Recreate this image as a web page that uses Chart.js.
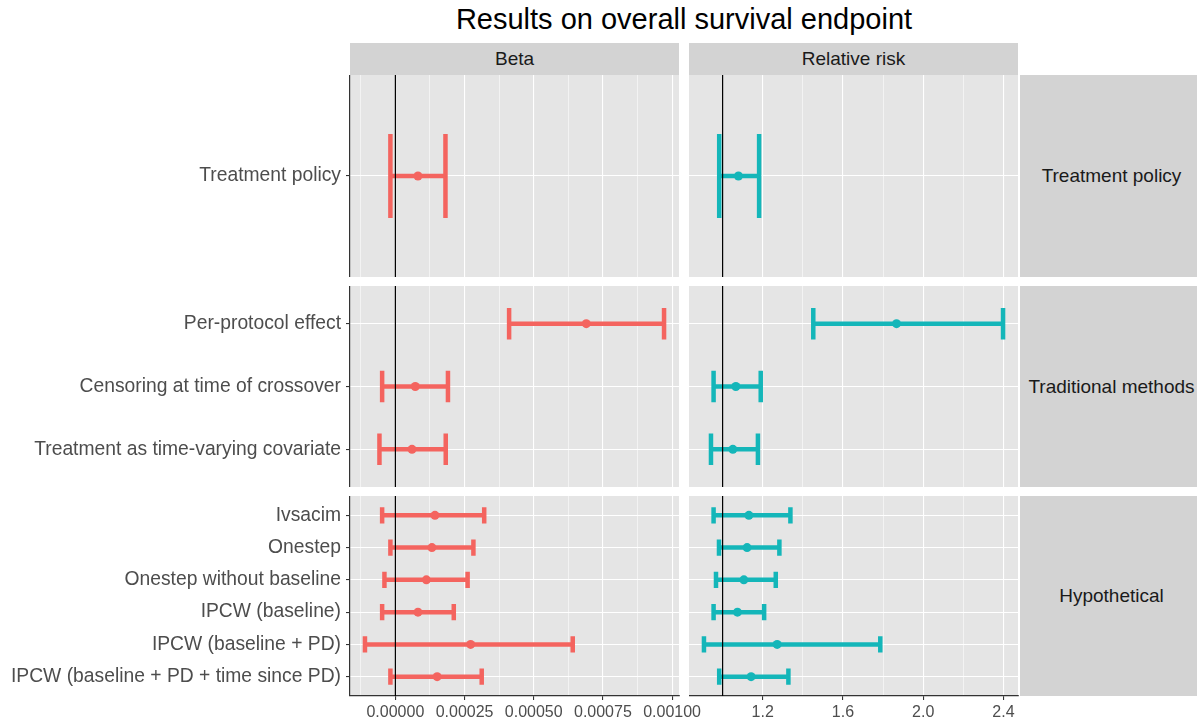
<!DOCTYPE html>
<html>
<head>
<meta charset="utf-8">
<script src="https://cdn.jsdelivr.net/npm/chart.js@4.4.1/dist/chart.umd.min.js"></script>
<style>
  html, body { margin: 0; padding: 0; background: #fff; overflow: hidden; }
  body { width: 1197px; height: 721px; position: relative; font-family: 'Liberation Sans', Arial, sans-serif; }
  .box { position: absolute; }
  .strip { position: absolute; background: #D3D3D3; color: #1A1A1A; font-size: 19px;
           display: flex; align-items: center; justify-content: center; white-space: nowrap; }
  #title { position: absolute; left: 350px; width: 668px; top: 3px; text-align: center; font-size: 29px; color: #000; }
</style>
</head>
<body>
<div id="title">Results on overall survival endpoint</div>
<script>
// facets
const groups = ['Treatment policy', 'Traditional methods', 'Hypothetical'];
const measures = ['Beta', 'Relative risk'];

// methods per group (top to bottom)
const treatmentMethods = ['Treatment policy'];
const traditionalMethods = ['Per-protocol effect', 'Censoring at time of crossover', 'Treatment as time-varying covariate'];
const hypotheticalMethods = ['Ivsacim', 'Onestep', 'Onestep without baseline', 'IPCW (baseline)',
  'IPCW (baseline + PD)', 'IPCW (baseline + PD + time since PD)'];

// Beta: estimate and CI, same order as the methods above
const betaEst  = [0.0000816, 0.000690, 0.0000719, 0.0000600, 0.000143, 0.000132, 0.000112, 0.0000816, 0.000272, 0.000151];
const betaLow  = [-0.000018, 0.000411, -0.0000479, -0.0000576, -0.0000479, -0.000018, -0.0000396, -0.0000479, -0.000110, -0.000018];
const betaHigh = [0.000181, 0.000971, 0.000190, 0.000182, 0.000321, 0.000282, 0.000261, 0.000211, 0.000641, 0.000312];

// Relative risk
const rrEst  = [1.079, 1.867, 1.066, 1.051, 1.131, 1.122, 1.106, 1.074, 1.272, 1.142];
const rrLow  = [0.983, 1.452, 0.955, 0.942, 0.955, 0.982, 0.967, 0.955, 0.907, 0.983];
const rrHigh = [1.182, 2.398, 1.190, 1.176, 1.338, 1.283, 1.265, 1.207, 1.786, 1.328];

// x axis breaks
const betaGrid = [-0.000125, 0, 0.000125, 0.00025, 0.000375, 0.0005, 0.000625, 0.00075, 0.000875, 0.001];
const betaMajor = [0, 0.00025, 0.0005, 0.00075, 0.001];
const betaTickLabels = ['0.00000', '0.00025', '0.00050', '0.00075', '0.00100'];
const rrGrid = [1.0, 1.2, 1.4, 1.6, 1.8, 2.0, 2.2, 2.4];
const rrMajor = [1.2, 1.6, 2.0, 2.4];
const rrTickLabels = ['1.2', '1.6', '2.0', '2.4'];

const FONT = "'Liberation Sans', Arial, sans-serif";
const colors = ['#F4645F', '#14B6B9'];
const colLeft = [350, 689];
const colWidth = 329;
const rowTop = [75, 286, 496];
const rowHeight = [202, 201, 200];
const capHalf = 0.25;

const methodGroups = [treatmentMethods, traditionalMethods, hypotheticalMethods];

function expandRange(lows, highs) {
  const lo = Math.min(...lows), hi = Math.max(...highs);
  const pad = (hi - lo) * 0.05;
  return [lo - pad, hi + pad];
}
const ranges = [expandRange(betaLow, betaHigh), expandRange(rrLow, rrHigh)];

const panelBg = {
  id: 'panelBg',
  beforeDraw(chart) {
    const { ctx, chartArea: a } = chart;
    ctx.save();
    ctx.fillStyle = '#E5E5E5';
    ctx.fillRect(a.left, a.top, a.width, a.height);
    ctx.restore();
  }
};

function addDiv(cls, text, left, top, width, height) {
  const d = document.createElement('div');
  d.className = cls;
  d.textContent = text;
  Object.assign(d.style, { left: left + 'px', top: top + 'px', width: width + 'px', height: height + 'px' });
  document.body.appendChild(d);
  return d;
}

function buildDatasets(lows, ests, highs, color, ref, n) {
  const ds = [];
  ds.push({ data: [{ x: ref, y: 0.4 }, { x: ref, y: n + 0.6 }], showLine: true,
            borderColor: '#000', borderWidth: 1.2, pointRadius: 0, order: 0 });
  ds.push({ data: ests.map((v, i) => ({ x: v, y: i + 1 })), showLine: false,
            pointRadius: 4.5, pointBackgroundColor: color, pointBorderColor: color, pointBorderWidth: 0, order: 1 });
  lows.forEach((lo, i) => {
    const y = i + 1, hi = highs[i];
    const seg = { showLine: true, borderColor: color, borderWidth: 4.5, pointRadius: 0, order: 2 };
    ds.push({ ...seg, data: [{ x: lo, y }, { x: hi, y }] });
    ds.push({ ...seg, data: [{ x: lo, y: y - capHalf }, { x: lo, y: y + capHalf }] });
    ds.push({ ...seg, data: [{ x: hi, y: y - capHalf }, { x: hi, y: y + capHalf }] });
  });
  return ds;
}

const series = [
  { est: betaEst, low: betaLow, high: betaHigh, ref: 0, grid: betaGrid, major: betaMajor, labels: betaTickLabels },
  { est: rrEst, low: rrLow, high: rrHigh, ref: 1, grid: rrGrid, major: rrMajor, labels: rrTickLabels }
];

// column strips
measures.forEach((m, c) => addDiv('strip', m, colLeft[c], 43, colWidth, 32));
// row strips
groups.forEach((g, r) => addDiv('strip', g, 1020, rowTop[r], 183, rowHeight[r]));

let offset = 0;
methodGroups.forEach((labels, r) => {
  const n = labels.length;
  const isBottom = r === methodGroups.length - 1;
  series.forEach((s, c) => {
    const isLeft = c === 0;
    const boxLeft = isLeft ? 0 : colLeft[1];
    const padRight = isLeft ? 41 : 11;
    const boxW = isLeft ? colLeft[0] + colWidth + padRight : colWidth + padRight;
    const axisH = isBottom ? 30 : 0;
    const box = document.createElement('div');
    box.className = 'box';
    Object.assign(box.style, { left: boxLeft + 'px', top: rowTop[r] + 'px', width: boxW + 'px', height: (rowHeight[r] + axisH) + 'px' });
    const cv = document.createElement('canvas');
    box.appendChild(cv);
    document.body.appendChild(box);

    const sl = (arr) => arr.slice(offset, offset + n);
    const majorIdx = (v) => s.major.findIndex(m => Math.abs(m - v) < 1e-9);

    new Chart(cv, {
      type: 'scatter',
      data: { datasets: buildDatasets(sl(s.low), sl(s.est), sl(s.high), colors[c], s.ref, n) },
      options: {
        responsive: true,
        maintainAspectRatio: false,
        animation: false,
        events: [],
        layout: { autoPadding: false, padding: { left: 0, top: 0, bottom: 0, right: padRight } },
        plugins: { legend: { display: false }, tooltip: { enabled: false } },
        scales: {
          x: {
            type: 'linear', bounds: 'data', min: ranges[c][0], max: ranges[c][1],
            afterBuildTicks: (sc) => { sc.ticks = s.grid.map(v => ({ value: v })); },
            afterFit: (sc) => { sc.height = axisH; sc.paddingLeft = 0; sc.paddingRight = 0; },
            ticks: {
              display: isBottom, autoSkip: false, maxRotation: 0, minRotation: 0,
              color: '#4D4D4D', font: { size: 16, family: FONT }, padding: 3,
              callback: (v) => { const k = majorIdx(v); return k >= 0 ? s.labels[k] : ''; }
            },
            grid: {
              color: '#FFFFFF',
              lineWidth: (ctx) => (ctx.tick && majorIdx(ctx.tick.value) >= 0) ? 1.1 : 0.55,
              drawTicks: isBottom, tickLength: 4,
              tickColor: (ctx) => (ctx.tick && majorIdx(ctx.tick.value) >= 0) ? '#333333' : 'rgba(0,0,0,0)',
              tickWidth: 1.1
            },
            border: { display: isBottom, color: '#333333', width: 1.2 }
          },
          y: {
            type: 'linear', bounds: 'data', reverse: true, min: 0.4, max: n + 0.6,
            afterBuildTicks: (sc) => { sc.ticks = labels.map((_, i) => ({ value: i + 1 })); },
            afterFit: (sc) => { sc.width = isLeft ? colLeft[0] : 0; sc.paddingTop = 0; sc.paddingBottom = 0; },
            ticks: {
              display: isLeft, autoSkip: false, color: '#4D4D4D', font: { size: 19.3, family: FONT }, padding: 5,
              callback: (v, i) => labels[i]
            },
            grid: { color: '#FFFFFF', lineWidth: 1.1, drawTicks: isLeft, tickLength: 4, tickColor: '#333333', tickWidth: 1.1 },
            border: { display: isLeft, color: '#333333', width: 1.2 }
          }
        }
      },
      plugins: [panelBg]
    });
  });
  offset += n;
});
</script>
</body>
</html>
